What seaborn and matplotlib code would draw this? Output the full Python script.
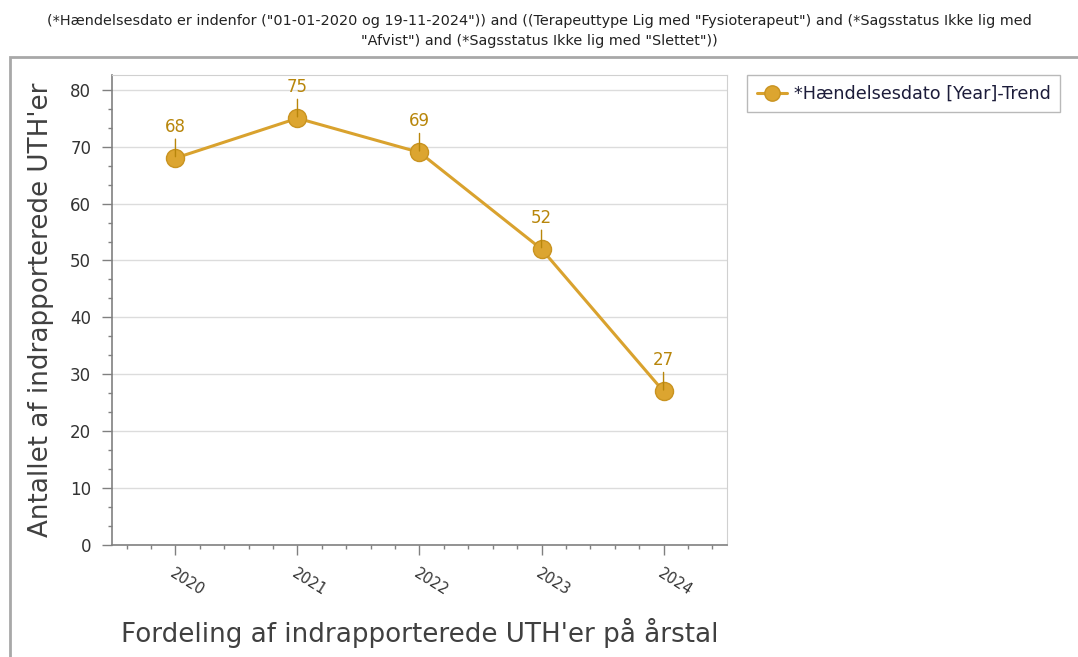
import numpy as np
import pandas as pd
import seaborn as sns
import matplotlib.pyplot as plt
from matplotlib.ticker import MultipleLocator, AutoMinorLocator
from matplotlib.patches import Rectangle

# data
years = [2020, 2021, 2022, 2023, 2024]
counts = [68, 75, 69, 52, 27]
series_name = "*Hændelsesdato [Year]-Trend"

title = ('(*Hændelsesdato er indenfor ("01-01-2020 og 19-11-2024")) and ((Terapeuttype Lig med "Fysioterapeut") '
         'and (*Sagsstatus Ikke lig med\n"Afvist") and (*Sagsstatus Ikke lig med "Slettet"))')
xlabel = "Fordeling af indrapporterede UTH'er på årstal"
ylabel = "Antallet af indrapporterede UTH'er"

df = pd.DataFrame({"year": years, "count": counts})

sns.set_style("white")
plt.rcParams['font.family'] = ['DejaVu Sans']

line_col = "#D9A22E"
label_col = "#B8860B"

fig = plt.figure(figsize=(10.78, 6.57), dpi=100)
ax = fig.add_axes([112 / 1078, 112 / 657, 615 / 1078, 470 / 657])

sns.lineplot(data=df, x="year", y="count", ax=ax, color=line_col, lw=2.2,
             marker="o", markersize=13, markerfacecolor="#DCA530",
             markeredgecolor="#C99320", markeredgewidth=1, label=series_name,
             legend=False)

# value labels with short leader lines
for x, y in zip(years, counts):
    ax.annotate(str(y), xy=(x, y), xytext=(0, 16), textcoords="offset points",
                ha="center", va="bottom", fontsize=12, color=label_col,
                arrowprops=dict(arrowstyle="-", color=label_col, lw=1,
                                shrinkA=0, shrinkB=1))

ax.set_xlim(2019.48, 2024.52)
ax.set_ylim(0, 82.6)
ax.set_xticks(years)
ax.xaxis.set_minor_locator(MultipleLocator(0.2))
ax.yaxis.set_major_locator(MultipleLocator(10))
ax.yaxis.set_minor_locator(AutoMinorLocator(3))

ax.grid(axis="y", color="#dcdcdc", lw=1)
ax.set_axisbelow(True)
for s in ["top", "right"]:
    ax.spines[s].set_color("#d0d0d0")
for s in ["left", "bottom"]:
    ax.spines[s].set_color("#808080")
    ax.spines[s].set_linewidth(1.2)

ax.tick_params(axis="both", which="major", length=7, width=1, color="#808080",
               labelsize=12, labelcolor="#333333", left=True, bottom=True)
ax.tick_params(axis="both", which="minor", length=3, width=1, color="#808080",
               left=True, bottom=True)
ax.tick_params(axis="y", which="major", pad=8)
ax.tick_params(axis="x", which="major", pad=8)
for lab in ax.get_xticklabels():
    lab.set_rotation(-32)
    lab.set_ha("left")
    lab.set_va("top")
    lab.set_rotation_mode("anchor")
    lab.set_fontsize(10.5)

ax.set_xlabel(xlabel, fontsize=18.8, color="#404040")
ax.set_ylabel(ylabel, fontsize=18.8, color="#404040")
ax.xaxis.set_label_coords(0.5, -0.155)
ax.yaxis.set_label_coords(-0.095, 0.5)

fig.text(0.5, 1 - 31 / 657, title, ha="center", va="center", fontsize=10.4,
         color="#222222", linespacing=1.6)

# outer chart frame
fig.patches.append(Rectangle((10 / 1078, -0.05), 1.1, 1 - 57 / 657 + 0.05,
                             transform=fig.transFigure, fill=False,
                             edgecolor="#a8a8a8", lw=2))

fig.legend(handles=ax.get_lines()[:1], labels=[series_name],
           loc="upper left", bbox_to_anchor=(747 / 1078, 1 - 75 / 657),
           borderaxespad=0, frameon=True, fancybox=False, edgecolor="#a8a8a8",
           fontsize=12.7, handlelength=1.7, handletextpad=0.4, borderpad=0.55,
           markerscale=0.85, labelcolor="#1c1c3a")

fig.savefig("out.png", dpi=100)
